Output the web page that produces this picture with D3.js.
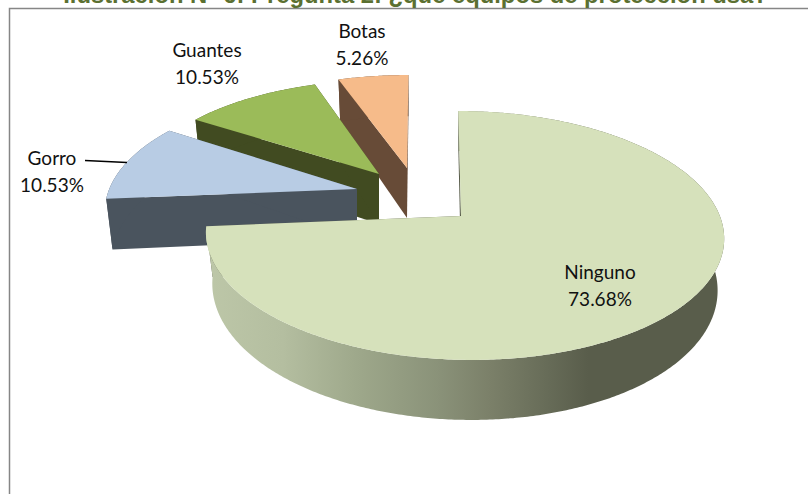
<!DOCTYPE html>
<html><head><meta charset="utf-8">
<script src="https://cdn.jsdelivr.net/npm/d3@7"></script>
<style>html,body{margin:0;padding:0;background:#fff;overflow:hidden}</style>
</head><body><svg id="c" width="808" height="494"></svg>
<script>
const titleText = "Ilustración N° 6: Pregunta 2: ¿que equipos de protección usa?";
const categories = ["Ninguno","Gorro","Guantes","Botas"];
const values = [73.68,10.53,10.53,5.26];
const topColors = ["#d6e1bb","#b8cce4","#9bbb59","#f6bb8a"];
const faceColors = ["#595d4b","#4a545e","#414b21","#674b37"];
// layout of each exploded slice: apex on screen, radius shares, lean
const apexX = [461,357,379,407];
const apexY = [216,189,174,168];
const radiusShareY = [1,0.95,0.88,0.87];
const radiusShareX = [0.989,0.95,0.925,0.94];
const lean = [3,-2,0,0];
const labelX = [600,52,207,362];
const labelY = [273,159,51,32];
const drawOrder = [3,2,1,0];

const svg = d3.select("#c");
const tau = 2*Math.PI;
const arcs = d3.pie().sort(null).value(d=>d).startAngle(0).endAngle(tau)(values);

// perspective projection of the disc
const sx = 258.7, sy = 121.4, persp = 0.1566, vanishX = 419;
function project(i, theta, r, low){
  const X = r*radiusShareX[i]*Math.sin(theta), Y = r*radiusShareY[i]*Math.cos(theta);
  const w = 1+persp*Y;
  const ax = apexX[i], ay = apexY[i];
  let dx = (sx*X + (vanishX-ax)*persp*Y)/w + lean[i]*r, dy = -sy*Y/w, off = 0;
  if(low){ off = 50*(1-0.2*Y); dx *= 0.975; }
  return [ax+dx, ay+dy+off];
}
function arcPts(i,a0,a1,low){
  const n = Math.max(2,Math.ceil((a1-a0)/0.01));
  return d3.range(n+1).map(k=>project(i,a0+(a1-a0)*k/n,1,low));
}
const line = d3.line().curve(d3.curveLinear);

const defs = svg.append("defs");
const grad = defs.append("linearGradient").attr("id","wall").attr("gradientUnits","userSpaceOnUse")
  .attr("x1",205).attr("x2",723).attr("y1",0).attr("y2",0);
[[0,"#bdc7a8"],[0.15,"#b4bea0"],[0.3,"#9da78a"],[0.45,"#8a9279"],[0.55,"#7b8069"],[0.66,"#676c58"],[0.74,"#595d4b"],[1,"#595d4b"]]
  .forEach(s=>grad.append("stop").attr("offset",s[0]).attr("stop-color",s[1]));

// frame
svg.append("path").attr("d","M9.5,494V8.5H808").attr("fill","none").attr("stroke","#868686").attr("stroke-width",1.5);

// title, sized to its measured width in the reference
const title = svg.append("text").attr("x",415.5).attr("y",2.5).attr("text-anchor","middle")
  .attr("font-family","Liberation Sans").attr("font-weight","bold").attr("font-size",20)
  .attr("fill","#5b7031").text(titleText);
title.attr("font-size", 20*705/title.node().getComputedTextLength());

drawOrder.forEach(i=>{
  const a = arcs[i], a0=a.startAngle, a1=a.endAngle;
  const g = svg.append("g");
  const apexT=[apexX[i],apexY[i]], apexB=project(i,0,0,true);
  g.append("path").attr("fill",faceColors[i])
    .attr("d",line([project(i,a0,1,false),apexT,apexB,project(i,a0,1,true)])+"Z");
  g.append("path").attr("fill",faceColors[i])
    .attr("d",line([project(i,a1,1,false),apexT,apexB,project(i,a1,1,true)])+"Z");
  const wall = arcPts(i,a0,a1,false).concat(arcPts(i,a0,a1,true).reverse());
  g.append("path").attr("fill",i===0?"url(#wall)":faceColors[i]).attr("d",line(wall)+"Z");
  g.append("path").attr("fill",topColors[i])
    .attr("d",line([apexT].concat(arcPts(i,a0,a1,false)))+"Z");
});

// leader line for Gorro
svg.append("path").attr("d","M85,160.5L127,162.5").attr("fill","none").attr("stroke","#000").attr("stroke-width",1.3);

// labels
categories.forEach((c,i)=>{
  const t = svg.append("text").attr("text-anchor","middle")
    .attr("font-family","Lato").attr("font-size",19).attr("fill","#111");
  t.append("tspan").attr("x",labelX[i]).attr("y",labelY[i]+6).text(c);
  t.append("tspan").attr("x",labelX[i]).attr("y",labelY[i]+33).text(d3.format(".2f")(values[i])+"%");
});
</script></body></html>
